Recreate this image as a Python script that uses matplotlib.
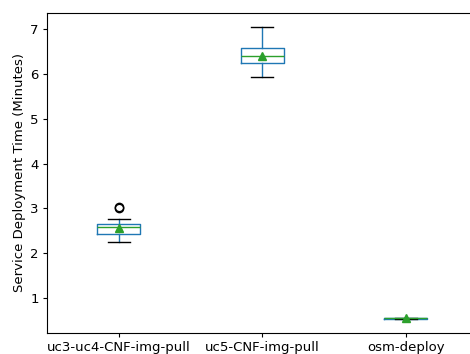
import matplotlib
matplotlib.use("Agg")
import matplotlib.pyplot as plt

categories = ["uc3-uc4-CNF-img-pull", "uc5-CNF-img-pull", "osm-deploy"]
whislo = [2.24, 5.93, 0.52]
q1 = [2.43, 6.24, 0.525]
med = [2.59, 6.41, 0.535]
q3 = [2.64, 6.58, 0.545]
whishi = [2.76, 7.06, 0.55]
means = [2.565, 6.40, 0.535]
fliers = [[3.0, 3.03], [], []]

stats = []
for i, c in enumerate(categories):
    stats.append(dict(label=c, whislo=whislo[i], q1=q1[i], med=med[i], q3=q3[i],
                      whishi=whishi[i], mean=means[i], fliers=fliers[i]))

fig = plt.figure(figsize=(4.70, 3.54), dpi=100)
ax = fig.add_axes([47/470, 1 - 333/354, 430.5/470, 320/354])
ax.bxp(stats, positions=[1, 2, 3], widths=0.3, showmeans=True,
       boxprops=dict(color="#1f77b4"), whiskerprops=dict(color="#1f77b4"),
       capprops=dict(color="k"), medianprops=dict(color="#2ca02c"),
       meanprops=dict(marker="^", markerfacecolor="#2ca02c", markeredgecolor="#2ca02c"),
       flierprops=dict(marker="o", markerfacecolor="none", markeredgecolor="k"))
ax.set_xlim(0.5, 3.5)
y0 = 1 - (333 - 297.7) / 44.73
y1 = 1 + (297.7 - 13) / 44.73
ax.set_ylim(y0, y1)
ax.set_yticks([1, 2, 3, 4, 5, 6, 7])
ax.tick_params(labelsize=9.5, length=3, pad=3)
ax.set_ylabel("Service Deployment Time (Minutes)", fontsize=9.5, labelpad=3)
fig.savefig("out.png", dpi=100)
